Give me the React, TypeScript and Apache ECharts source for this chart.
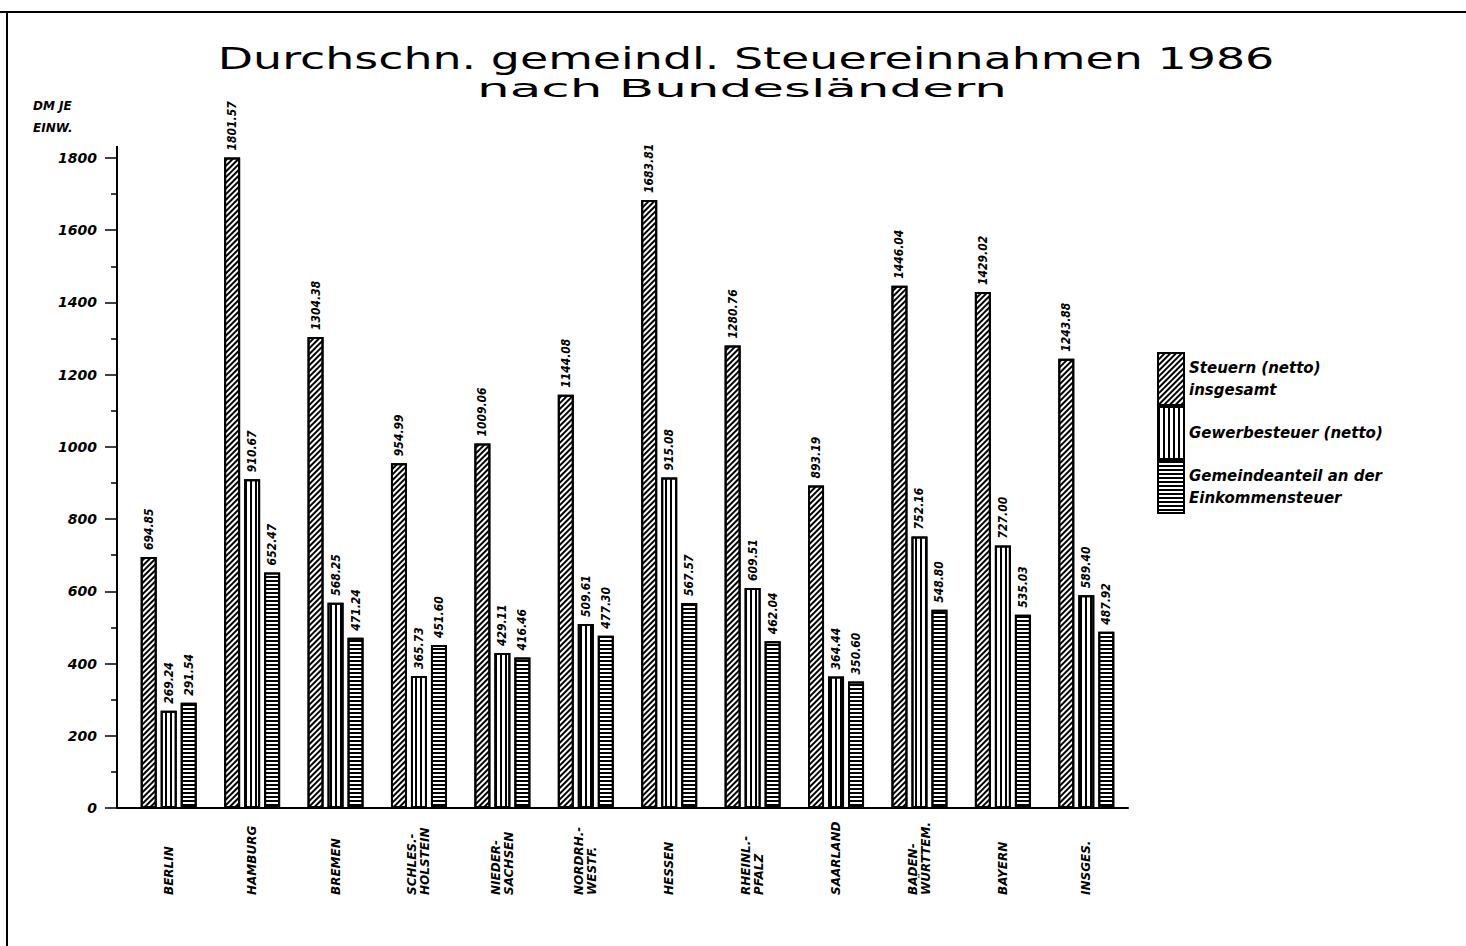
import React, { useEffect, useRef } from 'react';
import * as echarts from 'echarts';

const categories = [
  'BERLIN',
  'HAMBURG',
  'BREMEN',
  'SCHLES.-\nHOLSTEIN',
  'NIEDER-\nSACHSEN',
  'NORDRH.-\nWESTF.',
  'HESSEN',
  'RHEINL.-\nPFALZ',
  'SAARLAND',
  'BADEN-\nWÜRTTEM.',
  'BAYERN',
  'INSGES.',
];
const steuernInsgesamt = [694.85, 1801.57, 1304.38, 954.99, 1009.06, 1144.08, 1683.81, 1280.76, 893.19, 1446.04, 1429.02, 1243.88];
const gewerbesteuer = [269.24, 910.67, 568.25, 365.73, 429.11, 509.61, 915.08, 609.51, 364.44, 752.16, 727.0, 589.4];
const gemeindeanteil = [291.54, 652.47, 471.24, 451.6, 416.46, 477.3, 567.57, 462.04, 350.6, 548.8, 535.03, 487.92];

const seriesNames = ['Steuern (netto) insgesamt', 'Gewerbesteuer (netto)', 'Gemeindeanteil an der Einkommensteuer'];
const legendLabels: Record<string, string> = {
  'Steuern (netto) insgesamt': 'Steuern (netto)\ninsgesamt',
  'Gewerbesteuer (netto)': 'Gewerbesteuer (netto)',
  'Gemeindeanteil an der Einkommensteuer': 'Gemeindeanteil an der\nEinkommensteuer',
};
const titleText = 'Durchschn. gemeindl. Steuereinnahmen 1986';
const subtitleText = 'nach Bundesländern';
const yUnitText = 'DM JE\nEINW.';

const narrow = "'DejaVu Sans Condensed', 'DejaVu Sans', sans-serif";
const wide = "'DejaVu Sans', 'Liberation Sans', sans-serif";

const decals = [
  { symbol: 'rect', symbolSize: 1, color: '#000', dashArrayX: [1, 0], dashArrayY: [2, 2], rotation: -Math.PI / 4 },
  { symbol: 'rect', symbolSize: 1, color: '#000', dashArrayX: [2, 3], dashArrayY: [1, 0], rotation: 0 },
  { symbol: 'rect', symbolSize: 1, color: '#000', dashArrayX: [1, 0], dashArrayY: [2, 2], rotation: 0 },
];

export default function App() {
  const ref = useRef<HTMLDivElement>(null);
  useEffect(() => {
    const chart = echarts.init(ref.current!, null, { renderer: 'svg' });
    const data = [steuernInsgesamt, gewerbesteuer, gemeindeanteil];
    const option: any = {
      animation: false,
      backgroundColor: '#fff',
      grid: { left: 127, right: 338, top: 158, bottom: 138, containLabel: false },
      legend: {
        orient: 'vertical',
        left: 1157,
        top: 352,
        padding: 0,
        itemWidth: 26,
        itemHeight: 52,
        itemGap: 0,
        icon: 'rect',
        data: seriesNames,
        formatter: (n: string) => legendLabels[n],
        itemStyle: { borderColor: '#000', borderWidth: 2 },
        textStyle: { fontFamily: wide, fontStyle: 'italic', fontWeight: 'bold', fontSize: 15, color: '#000', lineHeight: 22 },
      },
      xAxis: {
        type: 'category',
        data: categories,
        axisLine: { lineStyle: { color: '#000', width: 2 } },
        axisTick: { show: false },
        axisLabel: {
          interval: 0,
          rotate: 90,
          align: 'left',
          verticalAlign: 'middle',
          margin: 87,
          color: '#000',
          fontFamily: wide,
          fontStyle: 'italic',
          fontWeight: 'bold',
          fontSize: 12,
          lineHeight: 13,
        },
      },
      yAxis: {
        type: 'value',
        min: 0,
        max: 1800,
        interval: 200,
        offset: 10,
        axisLine: { show: true, lineStyle: { color: '#000', width: 2 } },
        axisTick: { show: true, length: 12, lineStyle: { color: '#000', width: 1.5 } },
        minorTick: { show: true, splitNumber: 2, length: 6, lineStyle: { color: '#000', width: 1.5 } },
        splitLine: { show: false },
        axisLabel: {
          margin: 20,
          color: '#000',
          fontFamily: wide,
          fontStyle: 'italic',
          fontWeight: 'bold',
          fontSize: 14,
          formatter: (v: number) => String(v),
        },
      },
      series: seriesNames.map((name, i) => ({
        name,
        type: 'bar',
        data: data[i],
        barWidth: 16,
        barGap: '25%',
        clip: false,
        itemStyle: { color: '#fff', borderColor: '#000', borderWidth: 2, decal: decals[i] },
        label: {
          show: true,
          position: 'top',
          rotate: 90,
          align: 'left',
          verticalAlign: 'middle',
          distance: 7,
          formatter: (p: any) => Number(p.value).toFixed(2),
          color: '#000',
          fontFamily: narrow,
          fontStyle: 'italic',
          fontWeight: 'bold',
          fontSize: 12,
        },
      })),
      graphic: [
        { type: 'line', shape: { x1: 0, y1: 12, x2: 1466, y2: 12 }, style: { stroke: '#000', lineWidth: 2 } },
        { type: 'line', shape: { x1: 7, y1: 12, x2: 7, y2: 946 }, style: { stroke: '#000', lineWidth: 2 } },
        { type: 'line', shape: { x1: 117, y1: 146, x2: 117, y2: 158 }, style: { stroke: '#000', lineWidth: 2 } },
        { type: 'line', shape: { x1: 117, y1: 808, x2: 127, y2: 808 }, style: { stroke: '#000', lineWidth: 2 } },
        {
          type: 'text',
          x: 746,
          y: 59,
          scaleX: 1.53,
          style: { text: titleText, x: 0, y: 0, textAlign: 'center', textVerticalAlign: 'middle', font: `30px ${wide}`, fill: '#000' },
        },
        {
          type: 'text',
          x: 742,
          y: 89,
          scaleX: 2.15,
          style: { text: subtitleText, x: 0, y: 0, textAlign: 'center', textVerticalAlign: 'middle', font: `24px ${wide}`, fill: '#000' },
        },
        {
          type: 'text',
          x: 33,
          y: 95,
          style: { text: yUnitText, x: 0, y: 0, textAlign: 'left', textVerticalAlign: 'top', font: `italic bold 12px ${wide}`, lineHeight: 22, fill: '#000' },
        },
      ],
    };
    chart.setOption(option);
    return () => chart.dispose();
  }, []);
  return <div ref={ref} style={{ position: 'fixed', left: 0, top: 0, width: 1466, height: 946, background: '#fff' }} />;
}
